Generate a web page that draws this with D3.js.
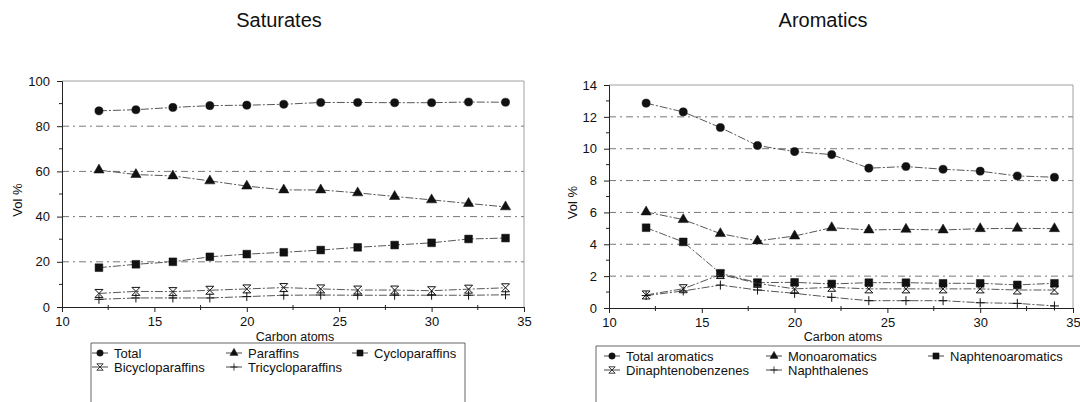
<!DOCTYPE html>
<html>
<head>
<meta charset="utf-8">
<script src="https://cdn.jsdelivr.net/npm/d3@7"></script>
<style>
body { margin: 0; background: #fff; }
text { font-family: "Liberation Sans", Arial, sans-serif; fill: #111; }
</style>
</head>
<body>
<svg></svg>
<script>
//data
const carbon = [12, 14, 16, 18, 20, 22, 24, 26, 28, 30, 32, 34];

// saturates
const satTotal = [86.8, 87.3, 88.3, 89.1, 89.3, 89.7, 90.5, 90.5, 90.4, 90.4, 90.7, 90.6];
const satParaffins = [60.6, 58.6, 58.0, 55.8, 53.5, 51.8, 51.8, 50.5, 48.9, 47.4, 45.8, 44.3];
const satCyclo = [17.4, 18.9, 20.0, 22.2, 23.4, 24.2, 25.2, 26.4, 27.4, 28.4, 30.1, 30.5];
const satBicyclo = [6.0, 6.9, 6.8, 7.4, 8.0, 8.6, 8.0, 7.5, 7.5, 7.2, 7.9, 8.5];
const satTricyclo = [3.4, 4.0, 4.0, 4.0, 4.6, 5.2, 5.3, 5.2, 5.2, 5.2, 5.2, 5.4];

// aromatics
const aroTotal = [12.86, 12.31, 11.33, 10.2, 9.82, 9.63, 8.78, 8.88, 8.71, 8.59, 8.29, 8.21];
const aroMono = [6.03, 5.55, 4.67, 4.21, 4.52, 5.04, 4.9, 4.94, 4.9, 4.98, 5.0, 4.98];
const aroNaphteno = [5.04, 4.15, 2.18, 1.59, 1.61, 1.51, 1.59, 1.59, 1.55, 1.55, 1.45, 1.55];
const aroDinaph = [0.82, 1.21, 2.1, 1.55, 1.2, 1.3, 1.2, 1.2, 1.2, 1.2, 1.13, 1.13];
const aroNaphthalenes = [0.78, 1.07, 1.44, 1.13, 0.92, 0.67, 0.46, 0.46, 0.46, 0.33, 0.29, 0.13];

const satNames = ["Total", "Paraffins", "Cycloparaffins", "Bicycloparaffins", "Tricycloparaffins"];
const aroNames = ["Total aromatics", "Monoaromatics", "Naphtenoaromatics", "Dinaphtenobenzenes", "Naphthalenes"];
const satTicks = [0, 20, 40, 60, 80, 100];
const aroTicks = [0, 2, 4, 6, 8, 10, 12, 14];
const xTicks = [10, 15, 20, 25, 30, 35];

//setting
const Width = 1080;
const Height = 402;
const svg = d3.select("svg").attr("width", Width).attr("height", Height);

const markers = ["circle", "triangle", "square", "hourglass", "plus"];

function markerPath(type) {
    if (type === "circle") return d3.symbol(d3.symbolCircle, 52)();
    if (type === "triangle") return d3.symbol(d3.symbolTriangle, 46)();
    if (type === "square") return d3.symbol(d3.symbolSquare, 60)();
    if (type === "hourglass") return "M-4,-4H4M-4,4H4M-4,-4L4,4M4,-4L-4,4";
    return "M-4.5,0H4.5M0,-4.5V4.5";
}

function drawMarker(g, type, scale) {
    const open = type === "hourglass" || type === "plus";
    g.append("path")
        .attr("d", markerPath(type))
        .attr("transform", `scale(${scale || 1})`)
        .attr("fill", open ? "none" : "#111")
        .attr("stroke", "#111")
        .attr("stroke-width", open ? 1 : 0.5);
}

function drawPanel(cfg) {
    const x = d3.scaleLinear().domain([10, 35]).range(cfg.xr);
    const y = d3.scaleLinear().domain([0, cfg.ymax]).range(cfg.yr);
    const g = svg.append("g");

    // title
    g.append("text")
        .attr("x", cfg.titleX)
        .attr("y", 27)
        .attr("text-anchor", "middle")
        .style("font-size", "20px")
        .text(cfg.title);

    // grid
    g.append("g")
        .selectAll("line")
        .data(cfg.ticks.slice(1, -1))
        .join("line")
        .attr("x1", x(10))
        .attr("x2", x(35))
        .attr("y1", d => y(d))
        .attr("y2", d => y(d))
        .attr("stroke", "#555")
        .attr("stroke-width", 0.8)
        .attr("stroke-dasharray", "7,4,2,4");

    // top + right border
    g.append("path")
        .attr("d", `M${x(10)},${y(cfg.ymax)}H${x(35)}V${y(0)}`)
        .attr("fill", "none")
        .attr("stroke", "#888")
        .attr("stroke-width", 0.8);

    // axes
    const yAxis = d3.axisLeft(y).tickValues(cfg.ticks).tickSize(5).tickPadding(7);
    const xAxis = d3.axisBottom(x).tickValues(xTicks).tickSize(5).tickPadding(5);

    const ya = g.append("g").attr("transform", `translate(${x(10)},0)`).call(yAxis);
    const xa = g.append("g").attr("transform", `translate(0,${y(0)})`).call(xAxis);
    [ya, xa].forEach(a => {
        a.select(".domain").attr("stroke", "#222");
        a.selectAll(".tick line").attr("stroke", "#222");
        a.selectAll(".tick text").style("font-size", "13px").style("font-family", "Liberation Sans, Arial, sans-serif").attr("fill", "#111");
    });

    // minor ticks
    const step = cfg.ticks[1] - cfg.ticks[0];
    g.append("g")
        .selectAll("line")
        .data(cfg.ticks.slice(0, -1).map(d => d + step / 2))
        .join("line")
        .attr("x1", x(10) - 3)
        .attr("x2", x(10))
        .attr("y1", d => y(d))
        .attr("y2", d => y(d))
        .attr("stroke", "#222");
    g.append("g")
        .selectAll("line")
        .data(xTicks.slice(0, -1).map(d => d + 2.5))
        .join("line")
        .attr("x1", d => x(d))
        .attr("x2", d => x(d))
        .attr("y1", y(0) - 2)
        .attr("y2", y(0) + 3)
        .attr("stroke", "#222");

    // axis titles
    g.append("text")
        .attr("transform", `translate(${cfg.volX},${(y(0) + y(cfg.ymax)) / 2 + 6}) rotate(-90)`)
        .attr("text-anchor", "middle")
        .style("font-size", "13px")
        .text("Vol %");
    g.append("text")
        .attr("x", (x(10) + x(35)) / 2 + 2)
        .attr("y", 341)
        .attr("text-anchor", "middle")
        .style("font-size", "12.5px")
        .text("Carbon atoms");

    // series
    const line = d3.line().x((d, i) => x(carbon[i])).y(d => y(d));
    cfg.series.forEach((s, k) => {
        g.append("path")
            .datum(s)
            .attr("d", line)
            .attr("fill", "none")
            .attr("stroke", "#444")
            .attr("stroke-width", 0.9)
            .attr("stroke-dasharray", "8,2,2,2");
        g.append("g")
            .selectAll("g")
            .data(s)
            .join("g")
            .attr("transform", (d, i) => `translate(${x(carbon[i])},${y(d)})`)
            .each(function () { drawMarker(d3.select(this), markers[k]); });
    });

    // legend
    const lg = g.append("g");
    lg.append("path")
        .attr("d", cfg.boxPath)
        .attr("fill", "none")
        .attr("stroke", "#555")
        .attr("stroke-width", 0.9);
    cfg.names.forEach((n, k) => {
        const col = k < 3 ? k : k - 3;
        const row = k < 3 ? 0 : 1;
        const item = lg.append("g")
            .attr("transform", `translate(${cfg.legX[col]},${cfg.legY[row]})`);
        item.append("line")
            .attr("x1", -8).attr("x2", 8)
            .attr("stroke", "#333").attr("stroke-width", 0.9);
        drawMarker(item, markers[k], 0.8);
        item.append("text")
            .attr("x", 14)
            .attr("dy", "0.35em")
            .style("font-size", "13px")
            .text(n);
    });
}

drawPanel({
    title: "Saturates", titleX: 279,
    xr: [62, 524], yr: [307, 81], ymax: 100, ticks: satTicks,
    volX: 22,
    series: [satTotal, satParaffins, satCyclo, satBicyclo, satTricyclo],
    names: satNames,
    boxPath: "M91,402V343H465V402",
    legX: [100, 234, 360], legY: [353, 367]
});

drawPanel({
    title: "Aromatics", titleX: 823,
    xr: [609, 1073], yr: [308, 85], ymax: 14, ticks: aroTicks,
    volX: 577,
    series: [aroTotal, aroMono, aroNaphteno, aroDinaph, aroNaphthalenes],
    names: aroNames,
    boxPath: "M596,402V346H1080",
    legX: [612, 774, 936], legY: [356, 370]
});
</script>
</body>
</html>
